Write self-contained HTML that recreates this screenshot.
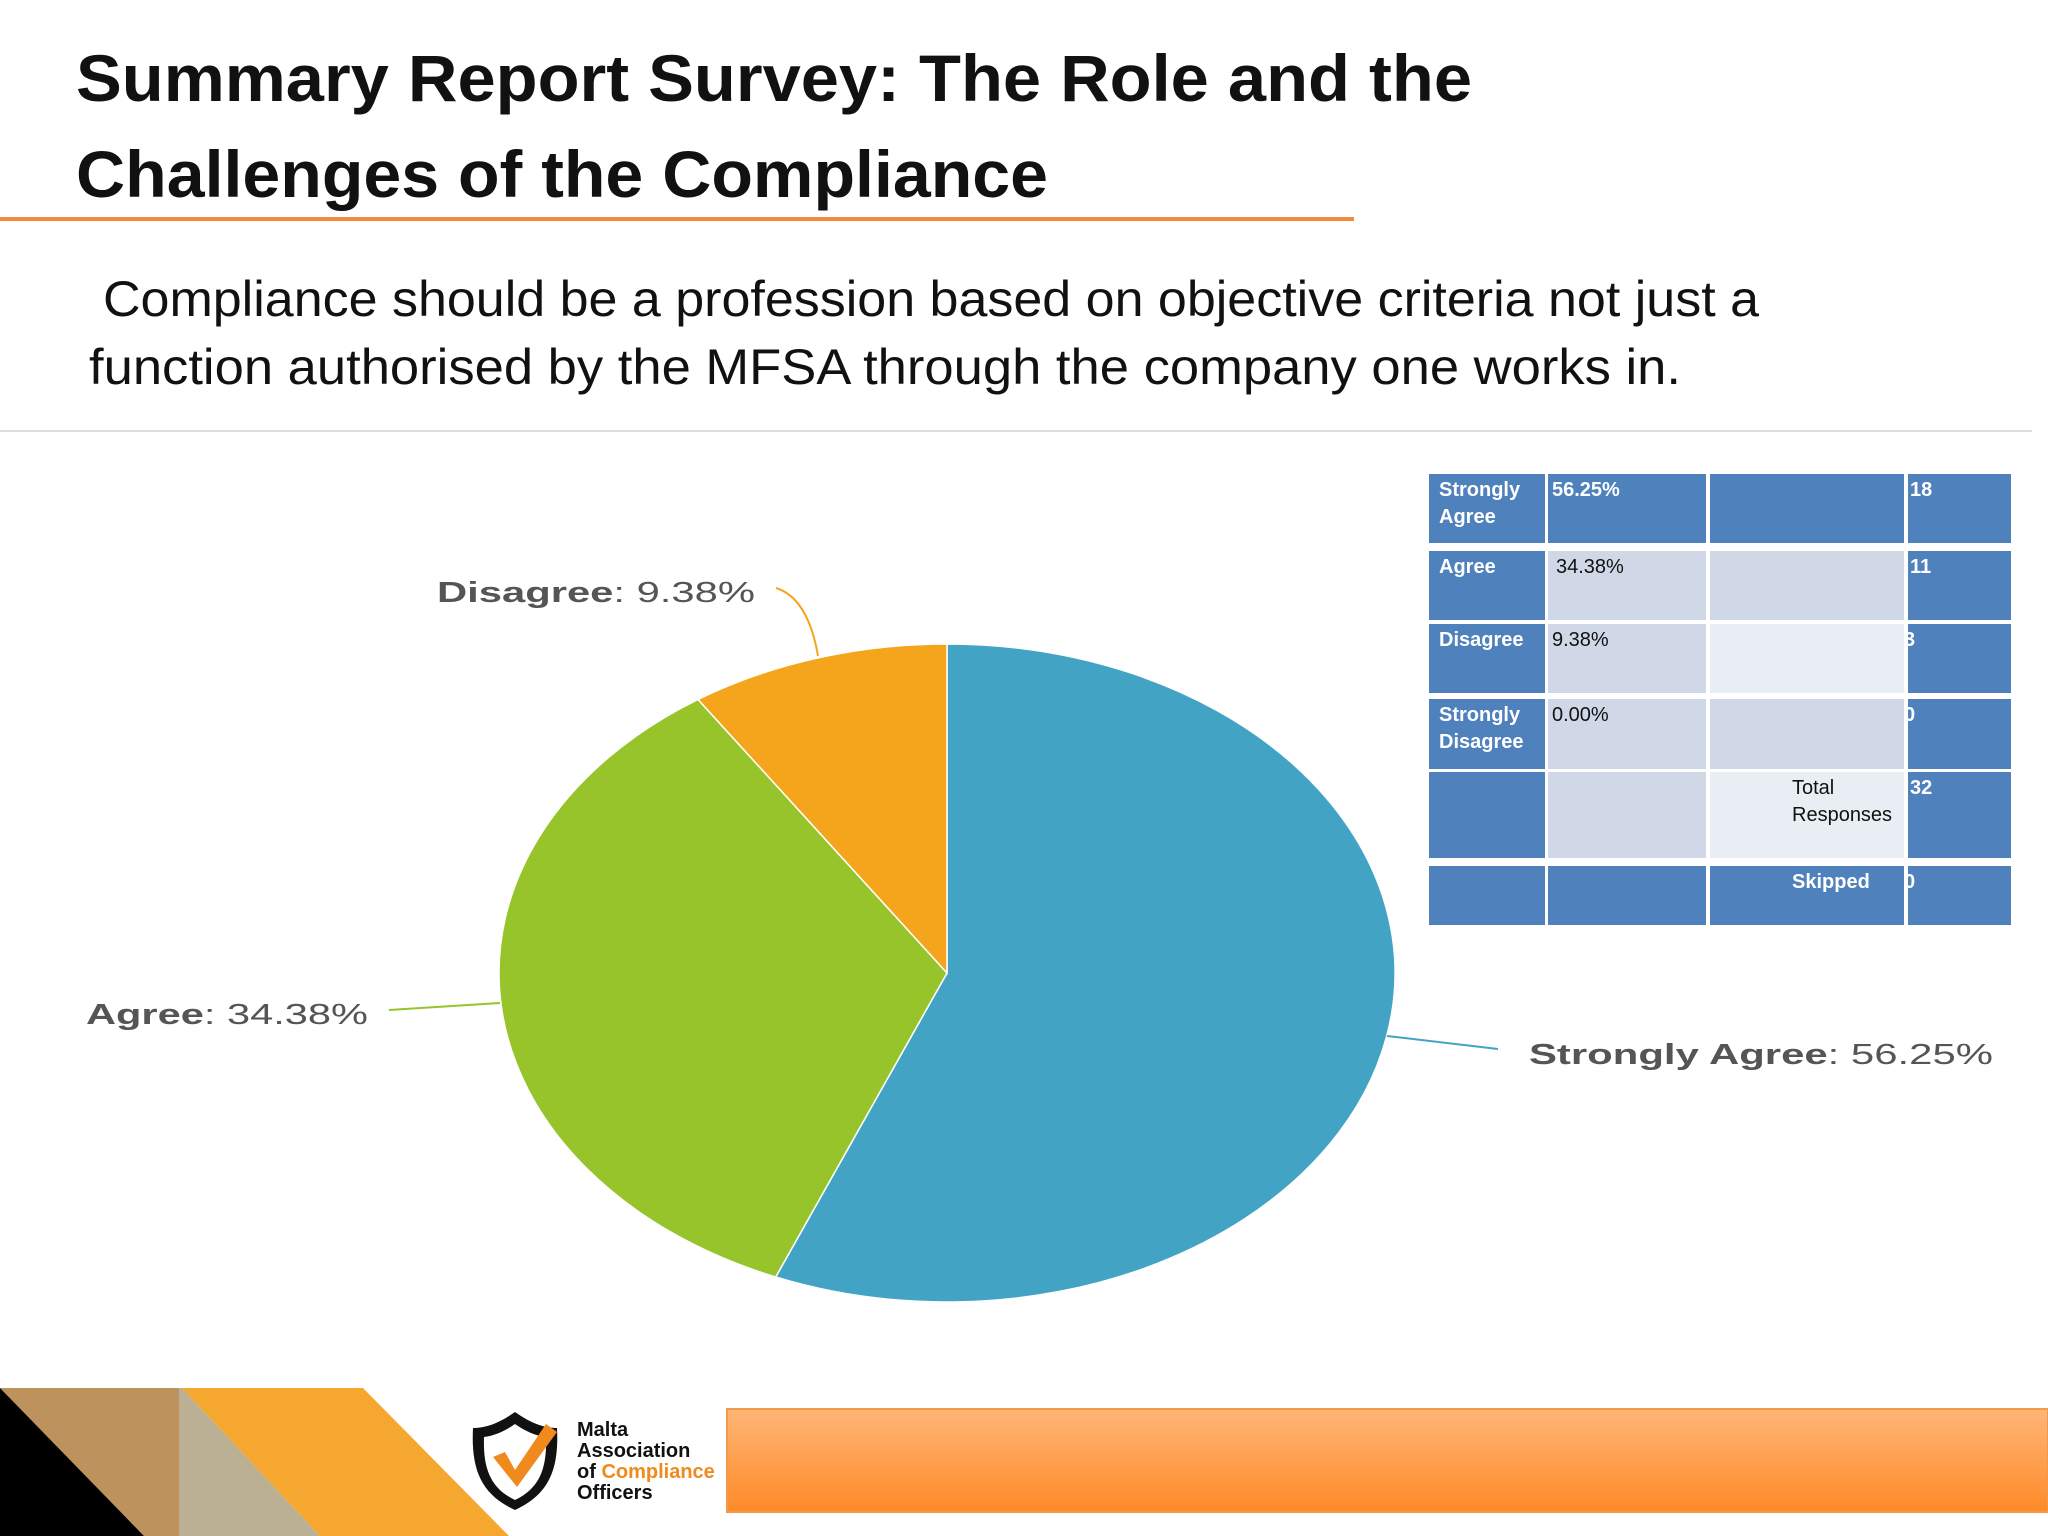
<!DOCTYPE html>
<html><head><meta charset="utf-8"><style>
html,body{margin:0;padding:0;background:#fff;}
svg{display:block;font-family:"Liberation Sans",sans-serif;}
</style></head><body>
<svg width="2048" height="1536" viewBox="0 0 2048 1536">
<text x="76" y="101" font-size="66" font-weight="bold" fill="#111" textLength="1396" lengthAdjust="spacingAndGlyphs">Summary Report Survey: The Role and the</text>
<text x="76" y="197" font-size="66" font-weight="bold" fill="#111" textLength="972" lengthAdjust="spacingAndGlyphs">Challenges of the Compliance</text>
<rect x="0" y="217" width="1354" height="4" fill="#F08A3C"/>
<text x="103" y="316" font-size="50" fill="#111" textLength="1656" lengthAdjust="spacingAndGlyphs">Compliance should be a profession based on objective criteria not just a</text>
<text x="89" y="384" font-size="50" fill="#111" textLength="1592" lengthAdjust="spacingAndGlyphs">function authorised by the MFSA through the company one works in.</text>
<rect x="0" y="430" width="2032" height="2" fill="#ddd"/>
<g id="pie"></g>
<g id="tbl"></g>
<g>
<polygon points="0,1388 179,1388 179,1536 144,1536" fill="#BD925C"/>
<polygon points="0,1388 144,1536 0,1536" fill="#000"/>
<polygon points="179,1388 182,1388 320,1536 179,1536" fill="#BBB093"/>
<polygon points="182,1388 363,1388 509,1536 320,1536" fill="#F5A72F"/>
<defs><linearGradient id="og" x1="0" y1="0" x2="0" y2="1"><stop offset="0" stop-color="#FFB678"/><stop offset="1" stop-color="#FF8A28"/></linearGradient></defs>
<rect x="727" y="1409" width="1321" height="103" fill="url(#og)" stroke="#F39A4A" stroke-width="2"/>
<g>
<path d="M515,1412 C498,1424 485,1428 473,1428 C471,1468 480,1494 515,1510 C550,1494 559,1468 557,1428 C545,1428 532,1424 515,1412 Z" fill="#111"/>
<path d="M515,1424 C502,1433 492,1436 484,1437 C483,1468 490,1488 515,1500 C540,1488 547,1468 546,1437 C538,1436 528,1433 515,1424 Z" fill="#fff"/>
<path d="M493,1457 L505,1452 L515,1470 L546,1424 L557,1432 L517,1487 Z" fill="#F08A1C"/>
</g>
<g font-size="20" font-weight="bold" fill="#111">
<text x="577" y="1436">Malta</text>
<text x="577" y="1457">Association</text>
<text x="577" y="1478">of <tspan fill="#F08A1C">Compliance</tspan></text>
<text x="577" y="1499">Officers</text>
</g>
</g>
<script>
const categories=["Strongly Agree","Agree","Disagree","Strongly Disagree"];
const percents=[56.25,34.38,9.38,0.00];
const counts=[18,11,3,0];
const pctLabels=["56.25%","34.38%","9.38%","0.00%"];
const colors=["#42A3C4","#97C42A","#F4A51C","#888"];
const NS="http://www.w3.org/2000/svg";
function mk(t,a,p){const e=document.createElementNS(NS,t);for(const k in a)e.setAttribute(k,a[k]);p.appendChild(e);return e;}
const cx=947,cy=973,rx=448,ry=329;
function pt(frac){const a=frac*2*Math.PI;return [cx+rx*Math.sin(a),cy-ry*Math.cos(a)];}
const pie=document.getElementById('pie');
const total=percents.reduce((a,b)=>a+b,0);
let acc=0;
percents.forEach((v,i)=>{
  if(v<=0)return;
  const f0=acc/total,f1=(acc+v)/total;acc+=v;
  const p0=pt(f0),p1=pt(f1);const large=(f1-f0)>0.5?1:0;
  const s=mk('path',{d:`M${cx},${cy} L${p0[0]},${p0[1]} A${rx},${ry} 0 ${large} 1 ${p1[0]},${p1[1]} Z`,fill:colors[i],stroke:"#fff","stroke-width":1.5},pie);
  
  
});
const labelPos=[[1529,1064,464,[1387,1036],[1498,1049]],[86,1024,282,[500,1003],[389,1010]],[437,602,318,[818,656],[776,588]]];
labelPos.forEach((L,i)=>{
  mk('path',{d:i==2?`M${L[3][0]},${L[3][1]} Q${L[3][0]-10},${L[4][1]+10} ${L[4][0]},${L[4][1]}`:`M${L[3][0]},${L[3][1]} L${L[4][0]},${L[4][1]}`,stroke:colors[i],"stroke-width":2,fill:"none"},pie);
  const t=mk('text',{x:L[0],y:L[1],"font-size":29,fill:"#555",textLength:L[2],lengthAdjust:"spacingAndGlyphs"},pie);
  
  
  const a=mk('tspan',{"font-weight":"bold"},t);a.textContent=categories[i];
  const b=mk('tspan',{},t);b.textContent=": "+percents[i].toFixed(2)+"%";
});
const cols=[1429,1548,1710,1908],colW=[116,158,194,103];
const rows=[474,551,624,699,772,866],rowH=[69,69,69,70,86,59];
const D="#4F81BD",Lt="#D0D8E8",Lx="#E9EDF4";
const fills=[[D,D,D,D],[D,Lt,Lt,D],[D,Lt,Lx,D],[D,Lt,Lt,D],[D,Lt,Lx,D],[D,D,D,D]];
const tbl=document.getElementById('tbl');
fills.forEach((r,ri)=>r.forEach((c,ci)=>{const e=mk('rect',{x:cols[ci],y:rows[ri],width:colW[ci],height:rowH[ri],fill:c},tbl);

}));
function txt(x,y,s,bold,col,name){const t=mk('text',{x:x,y:y,"font-size":20,fill:col,"font-weight":bold?"bold":"normal"},tbl);t.textContent=s;

}
categories.forEach((c,i)=>{
  const w=c.split(' ');
  if(w.length>1){txt(1439,rows[i]+22,w[0],1,"#fff","row-label-"+i);txt(1439,rows[i]+49,w[1],1,"#fff","row-label-"+i+"-b");}
  else txt(1439,rows[i]+22,c,1,"#fff","row-label-"+i);
  txt(i==1?1556:1552,rows[i]+22,pctLabels[i],i==0,i==0?"#fff":"#111","row-pct-"+i);
  txt(i==2||i==3?1904:1910,rows[i]+22,String(counts[i]),1,"#fff","row-count-"+i);
});
txt(1792,rows[4]+22,"Total",0,"#111","total-label");
txt(1792,rows[4]+49,"Responses",0,"#111","total-label-b");
txt(1910,rows[4]+22,String(counts.reduce((a,b)=>a+b,0)),1,"#fff","total-count");
txt(1792,rows[5]+22,"Skipped",1,"#fff","skipped-label");
txt(1904,rows[5]+22,"0",1,"#fff","skipped-count");
</script>
</svg>
</body></html>
